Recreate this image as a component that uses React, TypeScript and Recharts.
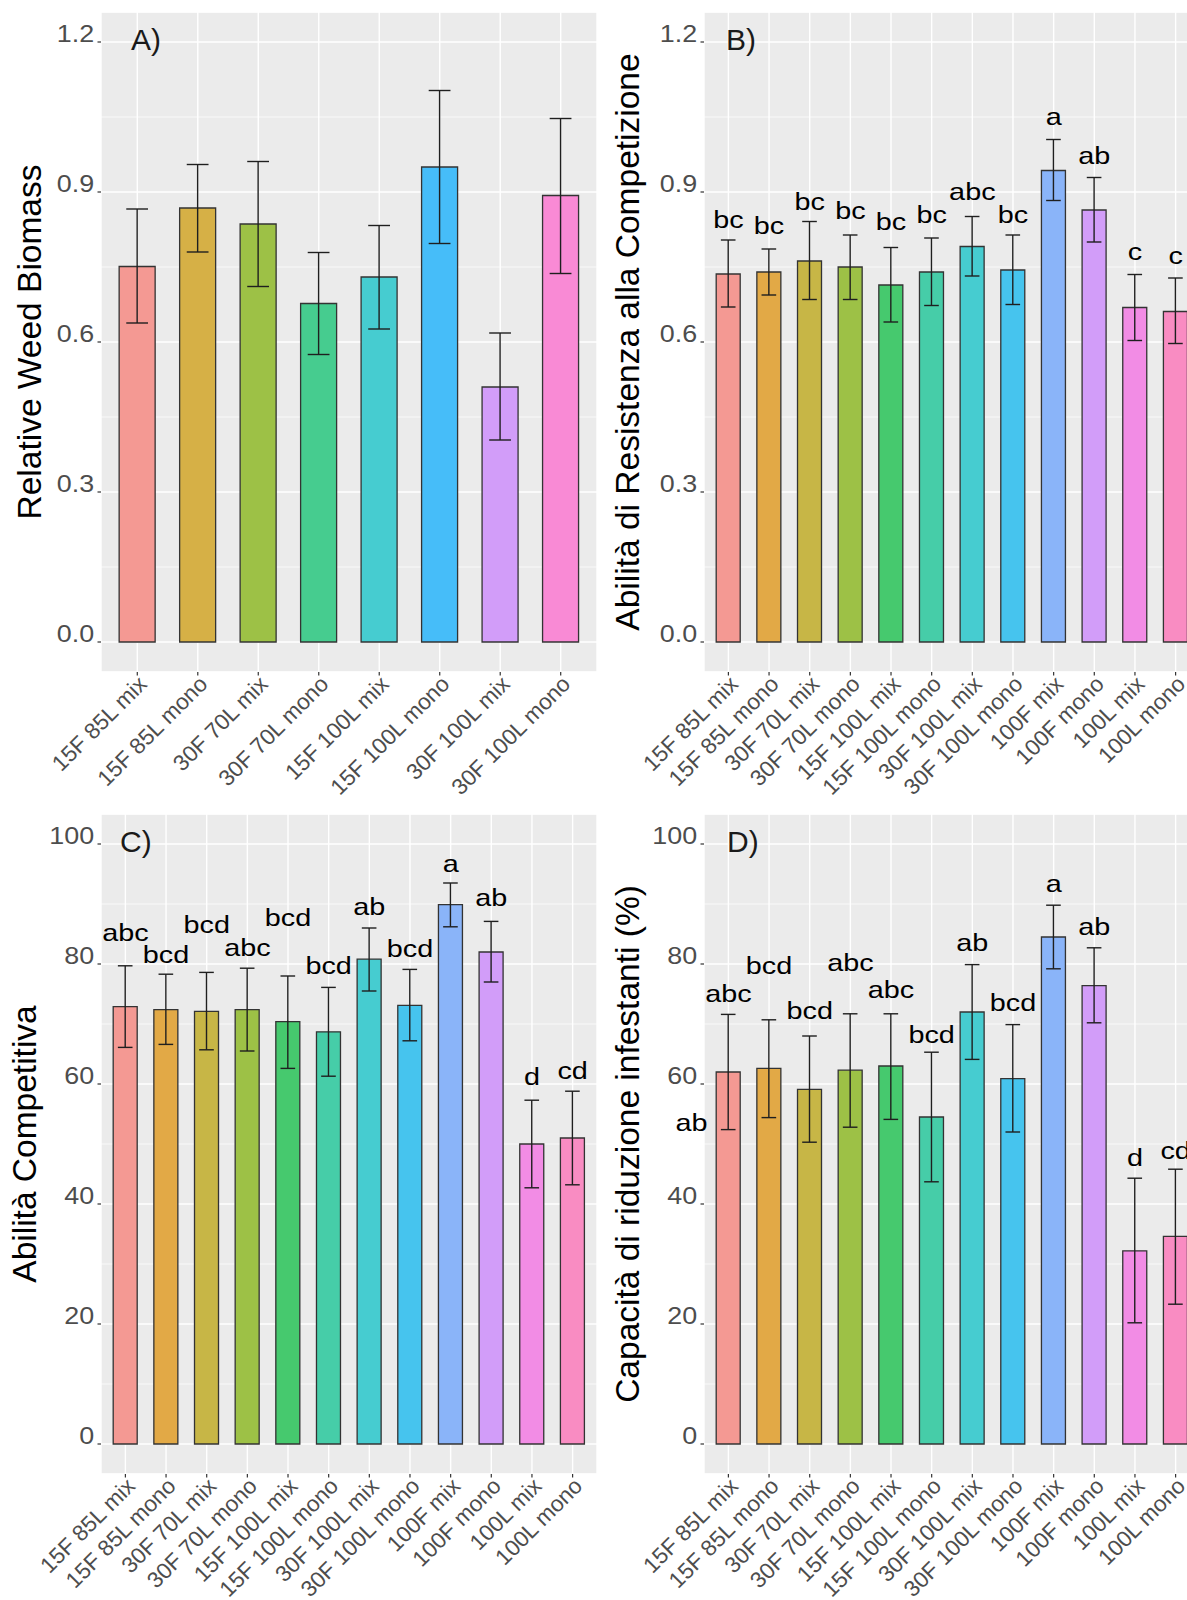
import { Bar, CartesianGrid, Cell, ComposedChart, ErrorBar, LabelList, Line, XAxis, YAxis } from 'recharts';

const FONT = '"Liberation Sans", Arial, Helvetica, sans-serif';

// treatments
const treatments8 = [
  '15F 85L mix', '15F 85L mono', '30F 70L mix', '30F 70L mono',
  '15F 100L mix', '15F 100L mono', '30F 100L mix', '30F 100L mono',
];
const treatments12 = [...treatments8, '100F mix', '100F mono', '100L mix', '100L mono'];

// A) relative weed biomass
const biomassMean = [0.751, 0.868, 0.836, 0.677, 0.730, 0.950, 0.510, 0.893];
const biomassLow = [0.638, 0.780, 0.711, 0.575, 0.626, 0.797, 0.404, 0.737];
const biomassHigh = [0.866, 0.955, 0.961, 0.779, 0.833, 1.103, 0.618, 1.047];

// B) resistance to competition
const resistMean = [0.736, 0.740, 0.762, 0.750, 0.714, 0.740, 0.791, 0.744, 0.943, 0.864, 0.669, 0.661];
const resistLow = [0.670, 0.694, 0.685, 0.685, 0.640, 0.673, 0.732, 0.675, 0.883, 0.800, 0.603, 0.597];
const resistHigh = [0.804, 0.786, 0.841, 0.814, 0.789, 0.808, 0.851, 0.814, 1.005, 0.929, 0.735, 0.728];
const resistLetters = ['bc', 'bc', 'bc', 'bc', 'bc', 'bc', 'abc', 'bc', 'a', 'ab', 'c', 'c'];
const resistLetterAt = [0.844, 0.833, 0.881, 0.862, 0.840, 0.854, 0.900, 0.854, 1.051, 0.973, 0.780, 0.773];

// C) competitive ability
const compMean = [72.9, 72.4, 72.1, 72.4, 70.4, 68.7, 80.8, 73.1, 89.9, 82.0, 50.0, 51.0];
const compLow = [66.1, 66.6, 65.7, 65.5, 62.6, 61.3, 75.5, 67.2, 86.2, 77.0, 42.7, 43.2];
const compHigh = [79.7, 78.3, 78.6, 79.3, 78.0, 76.1, 86.0, 79.1, 93.5, 87.1, 57.3, 58.8];
const compLetters = ['abc', 'bcd', 'bcd', 'abc', 'bcd', 'bcd', 'ab', 'bcd', 'a', 'ab', 'd', 'cd'];
const compLetterAt = [85.3, 81.6, 86.5, 82.7, 87.8, 79.7, 89.5, 82.6, 96.8, 91.0, 61.3, 62.3];

// D) weed reduction capacity (%)
const reducMean = [62.0, 62.6, 59.1, 62.3, 63.0, 54.5, 72.0, 60.9, 84.5, 76.4, 32.2, 34.6];
const reducLow = [52.4, 54.4, 50.3, 52.8, 54.1, 43.7, 64.1, 52.0, 79.2, 70.2, 20.2, 23.3];
const reducHigh = [71.6, 70.7, 68.0, 71.7, 71.7, 65.3, 79.9, 69.9, 89.8, 82.7, 44.3, 45.8];
const reducLetters = ['abc', 'bcd', 'bcd', 'abc', 'abc', 'bcd', 'ab', 'bcd', 'a', 'ab', 'd', 'cd'];
const reducLetterAt = [75.1, 79.7, 72.3, 80.2, 75.7, 68.3, 83.6, 73.6, 93.4, 86.3, 47.8, 48.9];
const reducExtraLetter = 'ab';
const reducExtraAt = 53.5;

// axis ticks
const ratioTicks = [0, 0.3, 0.6, 0.9, 1.2];
const ratioMinor = [0.15, 0.45, 0.75, 1.05];
const ratioDomain = [-0.06, 1.26];
const pctTicks = [0, 20, 40, 60, 80, 100];
const pctMinor = [10, 30, 50, 70, 90];
const pctDomain = [-5, 105];

// ggplot hue palette at alpha 0.7, flattened over the grey panel
const palette8 = ['#F49993', '#D6B046', '#9DC146', '#46CC8F', '#46CCD0', '#46BDF9', '#D29DF9', '#F98AD5'];
const palette12 = [
  '#F49993', '#E2A946', '#C7B646', '#9DC146', '#46C96E', '#46CDA8',
  '#46CCD0', '#46C4EE', '#8AB4F9', '#D29DF9', '#F28CE5', '#F98CC2',
];

const PANEL_W = 603;
const PANEL_H = 802;
const AXIS_W = 101;
const PLOT_TOP = 12;
const AXIS_H = 130;
const RIGHT = 6;
const PLOT_W = PANEL_W - AXIS_W - RIGHT;
const PLOT_H = PANEL_H - PLOT_TOP - AXIS_H;

type Row = {
  name: string;
  mean: number;
  err: [number, number];
  letter?: string;
  letterY?: number;
  extra?: string;
  extraY?: number;
};

function buildRows(
  names: string[], mean: number[], low: number[], high: number[],
  letters?: string[], letterAt?: number[],
): Row[] {
  return names.map((name, i) => ({
    name,
    mean: mean[i],
    err: [+(mean[i] - low[i]).toFixed(3), +(high[i] - mean[i]).toFixed(3)],
    letter: letters?.[i],
    letterY: letterAt?.[i],
  }));
}

const rowsA = buildRows(treatments8, biomassMean, biomassLow, biomassHigh);
const rowsB = buildRows(treatments12, resistMean, resistLow, resistHigh, resistLetters, resistLetterAt);
const rowsC = buildRows(treatments12, compMean, compLow, compHigh, compLetters, compLetterAt);
const rowsD = buildRows(treatments12, reducMean, reducLow, reducHigh, reducLetters, reducLetterAt);
rowsD[0].extra = reducExtraLetter;
rowsD[0].extraY = reducExtraAt;

function YTick(props: any) {
  const { x, y, payload, fmt } = props;
  return (
    <text
      transform={`translate(${x},${y}) scale(1.12,1)`}
      textAnchor="end"
      fontSize={24}
      fill="#4D4D4D"
      fontFamily={FONT}
    >
      {fmt(payload.value)}
    </text>
  );
}

function XTick(props: any) {
  const { x, y, payload } = props;
  return (
    <text
      transform={`translate(${x + 11},${y + 10}) rotate(-45)`}
      textAnchor="end"
      fontSize={22.5}
      fill="#4D4D4D"
      fontFamily={FONT}
    >
      {payload.value}
    </text>
  );
}

function letterContent(dx: number) {
  return (props: any) => {
    const { x, y, value } = props;
    if (value == null || y == null || Number.isNaN(y)) return null;
    return (
      <text
        transform={`translate(${x + dx},${y}) scale(1.2,1)`}
        dy="0.35em"
        textAnchor="middle"
        fontSize={24}
        fill="#000"
        fontFamily={FONT}
      >
        {value}
      </text>
    );
  };
}

type PanelProps = {
  rows: Row[];
  colors: string[];
  domain: number[];
  ticks: number[];
  minorTicks: number[];
  fmt: (v: number) => string;
  title: string;
  titleX: number;
  tag: string;
  tagDx: number;
};

function Panel({ rows, colors, domain, ticks, minorTicks, fmt, title, titleX, tag, tagDx }: PanelProps) {
  const unit = PLOT_W / (rows.length + 0.2);
  const pad = unit * 0.1;
  const hasLetters = rows.some((r) => r.letter != null);
  const hasExtra = rows.some((r) => r.extra != null);
  return (
    <div style={{ position: 'relative', width: PANEL_W, height: PANEL_H }}>
      <ComposedChart
        width={PANEL_W}
        height={PANEL_H}
        data={rows}
        margin={{ top: PLOT_TOP, right: RIGHT, bottom: 0, left: 0 }}
        barCategoryGap="20%"
        style={{ overflow: 'visible' }}
      >
        <CartesianGrid yAxisId="minor" vertical={false} stroke="#FFFFFF" strokeWidth={0.7} fill="#EBEBEB" />
        <CartesianGrid stroke="#FFFFFF" strokeWidth={1.4} />
        <XAxis
          dataKey="name"
          interval={0}
          height={AXIS_H}
          padding={{ left: pad, right: pad }}
          axisLine={false}
          tickSize={3.5}
          tickMargin={0}
          tickLine={{ stroke: '#333333', strokeWidth: 1.2 }}
          tick={(p: any) => <XTick {...p} />}
        />
        <YAxis
          width={AXIS_W}
          type="number"
          domain={domain}
          ticks={ticks}
          allowDataOverflow
          axisLine={false}
          tickSize={3.5}
          tickMargin={3.4}
          tickLine={{ stroke: '#333333', strokeWidth: 1.2 }}
          tick={(p: any) => <YTick {...p} fmt={fmt} />}
        />
        <YAxis yAxisId="minor" hide type="number" domain={domain} ticks={minorTicks} allowDataOverflow />
        <Bar dataKey="mean" isAnimationActive={false} stroke="#333333" strokeWidth={1.3}>
          {rows.map((r, i) => (
            <Cell key={r.name} fill={colors[i]} />
          ))}
          <ErrorBar dataKey="err" width={unit * 0.18} stroke="#1F1F1F" strokeWidth={1.4} direction="y" />
        </Bar>
        {hasLetters && (
          <Line dataKey="letterY" stroke="none" dot={false} activeDot={false} isAnimationActive={false}>
            <LabelList dataKey="letter" content={letterContent(0)} />
          </Line>
        )}
        {hasExtra && (
          <Line dataKey="extraY" stroke="none" dot={false} activeDot={false} isAnimationActive={false}>
            <LabelList dataKey="extra" content={letterContent(-0.907 * unit)} />
          </Line>
        )}
      </ComposedChart>
      <svg
        width={PANEL_W}
        height={PANEL_H}
        style={{ position: 'absolute', left: 0, top: 0, pointerEvents: 'none' }}
      >
        <text
          transform={`translate(${titleX},${PLOT_TOP + PLOT_H / 2}) rotate(-90)`}
          textAnchor="middle"
          fontSize={33.5}
          fill="#000"
          fontFamily={FONT}
        >
          {title}
        </text>
        <text x={AXIS_W + tagDx} y={PLOT_TOP + 38} fontSize={30} fill="#1A1A1A" fontFamily={FONT}>
          {tag}
        </text>
      </svg>
    </div>
  );
}

const fmtRatio = (v: number) => v.toFixed(1);
const fmtPct = (v: number) => String(v);

export default function App() {
  return (
    <div
      style={{
        position: 'absolute',
        left: 0,
        top: 0,
        width: 1187,
        height: 1600,
        overflow: 'hidden',
        background: '#FFFFFF',
        fontFamily: FONT,
      }}
    >
      <div style={{ position: 'absolute', left: 0, top: 0 }}>
        <Panel
          rows={rowsA}
          colors={palette8}
          domain={ratioDomain}
          ticks={ratioTicks}
          minorTicks={ratioMinor}
          fmt={fmtRatio}
          title="Relative Weed Biomass"
          titleX={40.5}
          tag="A)"
          tagDx={30}
        />
      </div>
      <div style={{ position: 'absolute', left: PANEL_W, top: 0 }}>
        <Panel
          rows={rowsB}
          colors={palette12}
          domain={ratioDomain}
          ticks={ratioTicks}
          minorTicks={ratioMinor}
          fmt={fmtRatio}
          title="Abilità di Resistenza alla Competizione"
          titleX={36}
          tag="B)"
          tagDx={22}
        />
      </div>
      <div style={{ position: 'absolute', left: 0, top: PANEL_H }}>
        <Panel
          rows={rowsC}
          colors={palette12}
          domain={pctDomain}
          ticks={pctTicks}
          minorTicks={pctMinor}
          fmt={fmtPct}
          title="Abilità Competitiva"
          titleX={36}
          tag="C)"
          tagDx={19}
        />
      </div>
      <div style={{ position: 'absolute', left: PANEL_W, top: PANEL_H }}>
        <Panel
          rows={rowsD}
          colors={palette12}
          domain={pctDomain}
          ticks={pctTicks}
          minorTicks={pctMinor}
          fmt={fmtPct}
          title="Capacità di riduzione infestanti (%)"
          titleX={36}
          tag="D)"
          tagDx={23}
        />
      </div>
    </div>
  );
}
